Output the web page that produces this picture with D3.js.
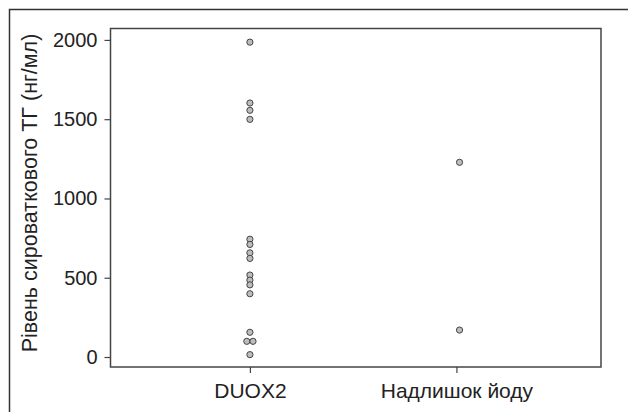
<!DOCTYPE html>
<html>
<head>
<meta charset="utf-8">
<script src="https://cdn.jsdelivr.net/npm/d3@7"></script>
<style>
  html, body { margin: 0; padding: 0; background: #fff; }
  svg { display: block; }
  text { font-family: "Liberation Sans", Arial, Helvetica, sans-serif; fill: #222; }
</style>
</head>
<body>
<svg id="chart" width="628" height="412"></svg>
<script>
// Serum thyroglobulin per patient group
const categories = ["DUOX2", "Надлишок йоду"];
const duox2Values = [1986, 1602, 1556, 1499, 743, 710, 657, 622, 517, 485, 455, 399, 156, 99, 99, 15];
const duox2Offsets = [0, 0, 0, 0, 0, 0, 0, 0, 0, 0, 0, 0, 0, -0.015, 0.015, 0];
const iodineValues = [1228, 170];
const iodineOffsets = [0.015, 0.015];
const yTicks = [0, 500, 1000, 1500, 2000];
const yLabel = "Рівень сироваткового ТГ (нг/мл)";

const svg = d3.select("#chart");
const margin = { left: 110.5, top: 28.5, right: 27, bottom: 45 };
const W = 628, H = 412;
const plotW = W - margin.left - margin.right;
const plotH = H - margin.top - margin.bottom;

// outer frame
svg.append("rect")
  .attr("x", 9.5).attr("y", 9.5)
  .attr("width", 640).attr("height", 420)
  .attr("fill", "none").attr("stroke", "#333").attr("stroke-width", 1.5);

const x = d3.scaleLinear().domain([0.325, 2.7]).range([0, plotW]);
const y = d3.scaleLinear().domain([-63, 2072]).range([plotH, 0]);

const g = svg.append("g").attr("transform", `translate(${margin.left},${margin.top})`);

// plot box
g.append("rect")
  .attr("x", 0).attr("y", 0).attr("width", plotW).attr("height", plotH)
  .attr("fill", "none").attr("stroke", "#444").attr("stroke-width", 1.5);

// y axis
const yAxis = d3.axisLeft(y).tickValues(yTicks).tickSize(6).tickPadding(7).tickFormat(d3.format("d"));
const ya = g.append("g").call(yAxis);
ya.select(".domain").remove();
ya.selectAll(".tick line").attr("stroke", "#444").attr("stroke-width", 1.2);
ya.selectAll(".tick text").attr("font-size", 20).attr("fill", "#222")
  .style("font-family", "'Liberation Sans', Arial, sans-serif");

// x axis
const xAxis = d3.axisBottom(x).tickValues([1, 2]).tickSize(6).tickPadding(10)
  .tickFormat(d => categories[d - 1]);
const xa = g.append("g").attr("transform", `translate(0,${plotH})`).call(xAxis);
xa.select(".domain").remove();
xa.selectAll(".tick line").attr("stroke", "#444").attr("stroke-width", 1.2);
xa.selectAll(".tick text").attr("font-size", 21).attr("fill", "#222")
  .style("font-family", "'Liberation Sans', Arial, sans-serif");

// y label
svg.append("text")
  .attr("transform", `translate(37,193) rotate(-90)`)
  .attr("text-anchor", "middle")
  .attr("font-size", 21.5)
  .text(yLabel);

// points
const pts = [];
duox2Values.forEach((v, i) => pts.push({ cat: 1 + duox2Offsets[i], v }));
iodineValues.forEach((v, i) => pts.push({ cat: 2 + iodineOffsets[i], v }));

g.selectAll("circle.pt").data(pts).enter().append("circle")
  .attr("class", "pt")
  .attr("cx", d => x(d.cat))
  .attr("cy", d => y(d.v))
  .attr("r", 3.1)
  .attr("fill", "#bdbdbd")
  .attr("stroke", "#444")
  .attr("stroke-width", 1);
</script>
</body>
</html>
